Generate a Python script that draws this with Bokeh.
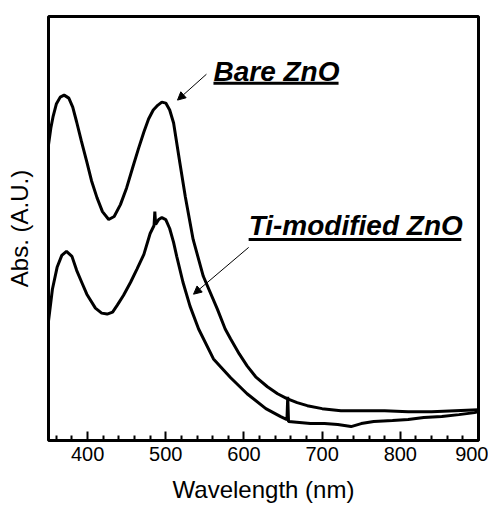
from bokeh.plotting import figure
from bokeh.models import FixedTicker, Label, Arrow, NormalHead, Range1d
from bokeh.embed import file_html
from bokeh.resources import INLINE

# ---- data (absorbance in arbitrary units) ----
bare_wl = [350, 353, 356, 360, 365, 370, 376, 381, 386, 392, 399, 405, 412, 419, 427,
           434, 442, 450, 458, 465, 472, 478, 484, 490, 495, 500, 505, 510,
           518, 525, 535, 548, 566, 576, 583, 594, 604, 615, 630, 643, 655, 668, 681,
           700, 724, 750, 780, 810, 840, 870, 900]
bare_abs = [2.97, 3.14, 3.26, 3.38, 3.45, 3.47, 3.44, 3.35, 3.20, 3.01, 2.80, 2.61, 2.44, 2.30, 2.22,
            2.25, 2.37, 2.54, 2.75, 2.93, 3.10, 3.23, 3.32, 3.37, 3.40, 3.39, 3.32, 3.19,
            2.79, 2.45, 2.02, 1.65, 1.32, 1.12, 1.02, 0.87, 0.75, 0.64, 0.54, 0.47, 0.42, 0.38, 0.35,
            0.32, 0.30, 0.30, 0.30, 0.29, 0.29, 0.30, 0.31]

ti_wl = [350, 355, 361, 367, 373, 380, 386, 393, 399, 410, 418, 425, 432, 438, 446,
         455, 463, 472, 480, 485, 486, 487, 491, 495, 500, 505, 510, 514, 522, 531,
         542, 561, 583, 604, 628, 647, 655, 656, 657, 685, 703, 720, 737, 750, 766,
         790, 810, 830, 853, 875, 895, 900]
ti_abs = [1.20, 1.52, 1.74, 1.86, 1.90, 1.85, 1.71, 1.58, 1.47, 1.33, 1.28, 1.27, 1.29, 1.36, 1.46,
          1.59, 1.72, 1.87, 2.08, 2.16, 2.30, 2.17, 2.22, 2.24, 2.22, 2.13, 1.99, 1.85, 1.59, 1.35,
          1.12, 0.82, 0.63, 0.47, 0.32, 0.24, 0.21, 0.44, 0.19, 0.17, 0.17, 0.16, 0.14, 0.17, 0.19,
          0.20, 0.21, 0.23, 0.24, 0.26, 0.28, 0.29]

x_major = [400, 500, 600, 700, 800, 900]
x_minor = [360, 380, 420, 440, 460, 480, 520, 540, 560, 580, 620, 640, 660, 680,
           720, 740, 760, 780, 820, 840, 860, 880]

FONT = "Liberation Sans"

p = figure(width=488, height=505, output_backend="svg", toolbar_location=None,
           x_range=Range1d(350, 900), y_range=Range1d(0, 4.26),
           min_border_left=48, min_border_right=10, min_border_top=16, min_border_bottom=63)
p.grid.visible = False
p.background_fill_color = "white"
p.border_fill_color = "white"
p.outline_line_color = "black"
p.outline_line_width = 3

# x axis
xa = p.xaxis[0]
xa.ticker = FixedTicker(ticks=x_major, minor_ticks=x_minor)
xa.axis_line_color = None
xa.major_tick_in = 9
xa.major_tick_out = 0
xa.minor_tick_in = 5
xa.minor_tick_out = 0
xa.major_tick_line_width = 2
xa.minor_tick_line_width = 2
xa.major_tick_line_color = "black"
xa.minor_tick_line_color = "black"
xa.major_label_text_font = FONT
xa.major_label_text_font_size = "20px"
xa.major_label_text_color = "black"
xa.major_label_standoff = 6
xa.axis_label = "Wavelength (nm)"
xa.axis_label_text_font = FONT
xa.axis_label_text_font_size = "24px"
xa.axis_label_text_font_style = "normal"
xa.axis_label_text_color = "black"
xa.axis_label_standoff = 12

# y axis (no ticks)
ya = p.yaxis[0]
ya.ticker = FixedTicker(ticks=[])
ya.axis_line_color = None
ya.major_tick_in = 0
ya.major_tick_out = 0
ya.minor_tick_in = 0
ya.minor_tick_out = 0
ya.major_label_text_font_size = "0px"
ya.major_label_standoff = 0
ya.axis_label = "Abs. (A.U.)"
ya.axis_label_text_font = FONT
ya.axis_label_text_font_size = "24px"
ya.axis_label_text_font_style = "normal"
ya.axis_label_text_color = "black"
ya.axis_label_standoff = 16

# curves
p.line(bare_wl, bare_abs, line_color="black", line_width=3)
p.line(ti_wl, ti_abs, line_color="black", line_width=3)

# annotations
p.add_layout(Label(x=561, y=3.71, text="Bare ZnO", text_font=FONT, text_font_size="28px",
                   text_font_style="bold italic", text_color="black", text_baseline="middle"))
p.segment(x0=[561], y0=[3.59], x1=[721], y1=[3.59], line_color="black", line_width=3)
p.add_layout(Label(x=606, y=2.16, text="Ti-modified ZnO", text_font=FONT, text_font_size="28px",
                   text_font_style="bold italic", text_color="black", text_baseline="middle"))
p.segment(x0=[606], y0=[2.02], x1=[878], y1=[2.02], line_color="black", line_width=3)

p.add_layout(Arrow(x_start=552, y_start=3.68, x_end=515, y_end=3.42, line_width=1,
                   line_color="black",
                   end=NormalHead(size=8, fill_color="black", line_color="black")))
p.add_layout(Arrow(x_start=606, y_start=1.94, x_end=535.5, y_end=1.47, line_width=1,
                   line_color="black",
                   end=NormalHead(size=8, fill_color="black", line_color="black")))

open("out.html", "w").write(file_html(p, INLINE))
